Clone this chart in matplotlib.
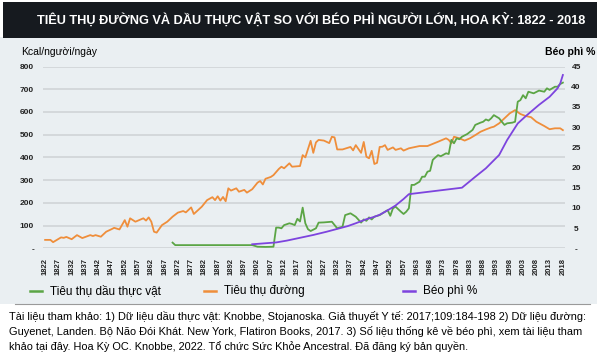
import matplotlib

matplotlib.use("Agg")
import matplotlib.pyplot as plt
from matplotlib.lines import Line2D
from matplotlib.patches import Rectangle

# category axis: 1822..2018, 1960 has no entry in the source table
axis_years = list(range(1822, 1960)) + list(range(1961, 2019))
tick_idx = list(range(0, len(axis_years), 5))

sugar_years = [1822, 1824, 1825, 1828, 1829, 1830, 1832, 1834, 1836, 1839, 1840, 1841, 1843, 1845,
               1847, 1848, 1850, 1852, 1853, 1854, 1856, 1859, 1860, 1861, 1862, 1863, 1864, 1866,
               1868, 1870, 1872, 1874, 1875, 1877, 1878, 1881, 1883, 1885, 1886, 1887, 1888, 1889,
               1890, 1891, 1892, 1894, 1895, 1897, 1898, 1900, 1902, 1903, 1904, 1905, 1907, 1908,
               1910, 1911, 1912, 1914, 1915, 1918, 1919, 1920, 1922, 1923, 1924, 1925, 1927, 1929,
               1930, 1931, 1932, 1934, 1937, 1938, 1939, 1941, 1942, 1943, 1944, 1945, 1946, 1947,
               1948, 1949, 1950, 1951, 1953, 1954, 1956, 1957, 1959, 1964, 1967, 1971, 1974, 1975,
               1976, 1977, 1979, 1981, 1983, 1985, 1987, 1989, 1991, 1992, 1994, 1996, 1998, 2000,
               2002, 2004, 2006, 2008, 2011, 2013, 2015, 2017, 2018]
sugar_kcal = [37, 37, 27, 48, 46, 50, 40, 58, 45, 58, 54, 58, 51, 73,
              84, 90, 83, 124, 95, 132, 117, 132, 122, 136, 117, 73, 69, 102,
              117, 139, 157, 164, 158, 180, 151, 183, 212, 225, 212, 229, 210, 226,
              207, 264, 254, 264, 249, 257, 245, 260, 289, 296, 281, 306, 314, 322,
              349, 359, 352, 374, 359, 362, 410, 400, 473, 420, 466, 477, 474, 463,
              491, 488, 435, 435, 446, 431, 454, 420, 468, 403, 396, 429, 371, 376,
              446, 447, 454, 433, 444, 433, 440, 430, 440, 450, 450, 469, 484, 477,
              462, 491, 484, 474, 484, 498, 513, 523, 532, 535, 550, 572, 594, 608,
              591, 582, 577, 557, 538, 524, 528, 528, 520]

oil_years = [1870, 1871, 1900, 1902, 1905, 1908, 1909, 1910, 1911, 1912, 1914, 1915, 1916, 1917,
             1918, 1919, 1920, 1921, 1922, 1924, 1925, 1927, 1930, 1932, 1934, 1935, 1937, 1939,
             1941, 1942, 1943, 1944, 1945, 1946, 1948, 1951, 1952, 1953, 1954, 1956, 1957, 1958,
             1959, 1961, 1962, 1964, 1965, 1966, 1967, 1968, 1969, 1970, 1971, 1972, 1974, 1975,
             1976, 1977, 1978, 1979, 1980, 1982, 1984, 1985, 1987, 1988, 1989, 1990, 1991, 1992,
             1994, 1995, 1996, 1997, 1999, 2000, 2001, 2002, 2003, 2004, 2005, 2007, 2009, 2011,
             2012, 2013, 2015, 2016, 2017, 2018]
oil_kcal = [25, 14, 14, 7, 6, 7, 91, 91, 88, 102, 110, 107, 102, 130,
            118, 179, 110, 84, 76, 88, 113, 114, 117, 88, 95, 146, 154, 139,
            113, 127, 121, 136, 127, 139, 146, 168, 143, 176, 183, 161, 151, 161,
            176, 279, 279, 293, 315, 315, 337, 341, 389, 400, 410, 405, 418, 415,
            477, 462, 484, 480, 491, 503, 521, 543, 553, 557, 567, 562, 572, 586,
            572, 557, 543, 550, 553, 557, 645, 652, 674, 660, 689, 682, 694, 689,
            704, 697, 711, 711, 723, 729]

obesity_years = [1900, 1904, 1909, 1913, 1918, 1923, 1928, 1932, 1936, 1939, 1943, 1946, 1948, 1951,
                 1954, 1957, 1959, 1980, 1985, 1989, 1994, 1997, 2001, 2004, 2009, 2013, 2016, 2017,
                 2018]
obesity_pct = [1.0, 1.2, 1.45, 1.9, 2.6, 3.3, 4.1, 4.8, 5.5, 6.2, 7.2, 7.8, 8.3, 9.4,
               10.6, 12.2, 13.4, 15.0, 17.7, 19.8, 23.1, 26.8, 30.9, 32.7, 35.5, 37.5, 39.6, 40.8,
               42.9]

left_ticks = [0, 100, 200, 300, 400, 500, 600, 700, 800]
right_ticks = [0, 5, 10, 15, 20, 25, 30, 35, 40, 45]

GREEN = "#5ba545"
ORANGE = "#ef8e3b"
PURPLE = "#7d44de"
PANEL = "#eaeff2"
GRID = "#d2d6d9"
FONT = "Liberation Sans"

pos = {y: i for i, y in enumerate(axis_years)}


def to_pos(years):
    return [pos[y] for y in years]


fig = plt.figure(figsize=(6, 3.6), dpi=100)
fig.patch.set_facecolor("white")

# panel + title bar
fig.add_artist(Rectangle((0, 1 - 304 / 360), 0.995, 304 / 360 - 37 / 360, transform=fig.transFigure,
                         facecolor=PANEL, edgecolor="none", zorder=0))
fig.add_artist(Rectangle((0.005, 1 - 38 / 360), 0.99, 36 / 360, transform=fig.transFigure,
                         facecolor="#161a1f", edgecolor="none", zorder=0))
fig.text(311 / 600, 1 - 20 / 360, "TIÊU THỤ ĐƯỜNG VÀ DẦU THỰC VẬT SO VỚI BÉO PHÌ NGƯỜI LỚN, HOA KỲ: 1822 - 2018",
         color="white", fontsize=9.2, fontweight="bold", ha="center", va="center", family=FONT)

ax = fig.add_axes([43 / 600, 1 - 248.3 / 360, 522 / 600, 181.8 / 360])
ax.set_facecolor("none")
ax.plot(to_pos(sugar_years), sugar_kcal, color=ORANGE, lw=1.3, zorder=3)
ax.plot(to_pos(oil_years), oil_kcal, color=GREEN, lw=1.3, zorder=3)
ax.set_xlim(-0.8, 195.8)
ax.set_ylim(0, 800)
ax.set_yticks(left_ticks)
ax.set_yticklabels(["-" if v == 0 else str(v) for v in left_ticks], fontsize=6, fontweight="bold",
                   family=FONT, color="#222222")
ax.set_xticks(tick_idx)
ax.set_xticklabels([str(axis_years[i]) for i in tick_idx], rotation=90, fontsize=5.5,
                   fontweight="bold", family=FONT, color="#222222")
ax.tick_params(axis="both", length=0)
ax.tick_params(axis="y", pad=6.5)
ax.tick_params(axis="x", pad=7)
ax.grid(axis="y", color=GRID, lw=1.3)
ax.set_axisbelow(True)
for s in ax.spines.values():
    s.set_visible(False)

ax2 = ax.twinx()
ax2.plot(to_pos(obesity_years), obesity_pct, color=PURPLE, lw=1.3, zorder=4)
ax2.set_ylim(0, 45)
ax2.set_yticks(right_ticks)
ax2.set_yticklabels(["-" if v == 0 else str(v) for v in right_ticks], fontsize=6, fontweight="bold",
                    family=FONT, color="#222222", ha="center")
ax2.tick_params(axis="y", length=0, pad=8)
for s in ax2.spines.values():
    s.set_visible(False)

fig.text(21 / 600, 1 - 52 / 360, "Kcal/người/ngày", fontsize=7.5, family=FONT, va="center", ha="left")
fig.text(595 / 600, 1 - 52 / 360, "Béo phì %", fontsize=7.5, family=FONT, fontweight="bold",
         va="center", ha="right")

# legend row
leg_y = 1 - 291 / 360
for x0, col, label in [(30, GREEN, "Tiêu thụ dầu thực vật"), (204, ORANGE, "Tiêu thụ đường"),
                       (403, PURPLE, "Béo phì %")]:
    fig.add_artist(Line2D([x0 / 600, (x0 + 12) / 600], [leg_y, leg_y], transform=fig.transFigure,
                          color=col, lw=1.8))
    fig.text((x0 + 20) / 600, leg_y, label, fontsize=8.5, family=FONT, va="center", ha="left")

fig.add_artist(Line2D([15 / 600, 590 / 600], [1 - 304 / 360, 1 - 304 / 360], transform=fig.transFigure,
                      color="#9a9a9a", lw=0.8))

fig.text(9 / 600, 1 - 311 / 360,
         "Tài liệu tham khảo: 1) Dữ liệu dầu thực vật: Knobbe, Stojanoska. Giả thuyết Y tế: 2017;109:184-198 2) Dữ liệu đường:\n"
         "Guyenet, Landen. Bộ Não Đói Khát. New York, Flatiron Books, 2017. 3) Số liệu thống kê về béo phì, xem tài liệu tham\n"
         "khảo tại đây. Hoa Kỳ OC. Knobbe, 2022. Tổ chức Sức Khỏe Ancestral. Đã đăng ký bản quyền.",
         fontsize=7.9, family=FONT, va="top", ha="left", linespacing=1.45)

fig.savefig("out.png", dpi=100)
